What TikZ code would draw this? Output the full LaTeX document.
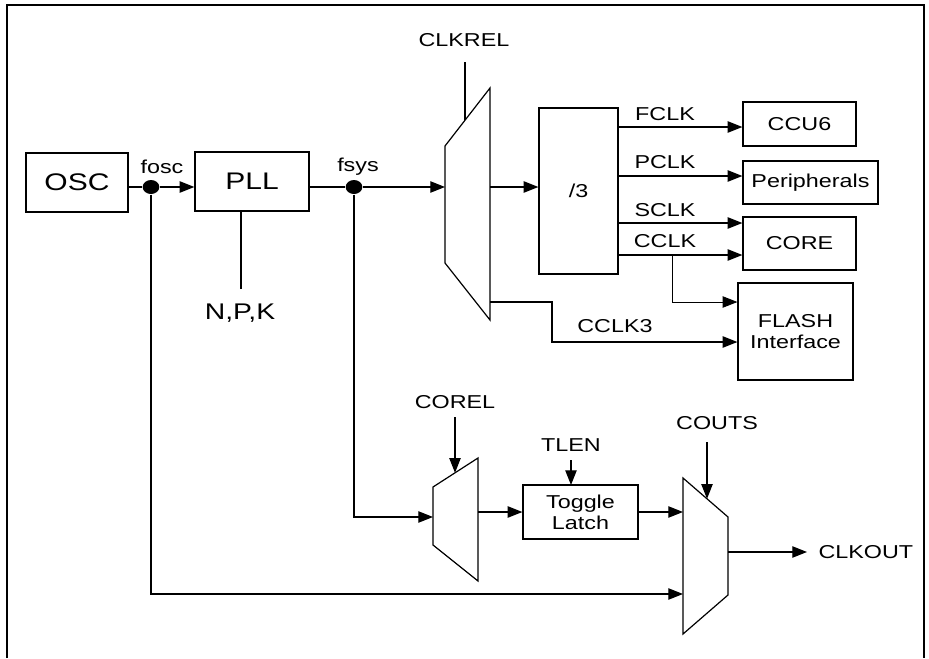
\documentclass[tikz,border=0pt]{standalone}
\usepackage{fontspec}
\newfontfamily\lblfont[FakeStretch=1.25]{Liberation Sans}
\usetikzlibrary{arrows.meta,positioning,calc,shapes.geometric}

\begin{document}
\begin{tikzpicture}[x=0.75pt, y=-0.75pt, >={Triangle[length=11pt,width=8.5pt]},
    line width=0.9pt, font=\lblfont\fontsize{14}{16}\selectfont,
    blk/.style={draw, line width=0.9pt, inner sep=0pt, align=center},
    bigblk/.style={blk, font=\lblfont\fontsize{18}{20}\selectfont},
    dot/.style={ellipse, fill, inner sep=0pt, minimum width=12.5pt, minimum height=10.5pt},
    lbl/.style={inner sep=0pt, align=center}]

  \useasboundingbox (0,0) rectangle (929,658);
  % outer frame, open at the bottom
  \draw[line width=1.8pt] (7,658) -- (7,5) -- (924,5) -- (924,658);

  % oscillator and PLL
  \node[bigblk, minimum width=76.5pt, minimum height=44.25pt] (osc) at (77,182.5) {OSC};
  \node[bigblk, minimum width=85.5pt, minimum height=44.25pt] (pll) at (252,181.5) {PLL};
  \node[dot] (fosc) at (151,187) {};
  \node[dot] (fsys) at (354,187) {};
  \node[lbl] (lfosc) at (162,167) {fosc};
  \node[lbl] (lfsys) at (358,167) {fsys};
  \node[lbl, font=\lblfont\fontsize{17}{19}\selectfont] (npk) at (240,313) {N,P,K};
  \coordinate (npktop) at (241,289);

  \draw (osc.east |- fosc) -- (fosc);
  \draw[->] (fosc) -- (fosc -| pll.west);
  \draw (pll.east |- fsys) -- (fsys);
  \draw (npktop) -- (npktop |- pll.south);

  % CLKREL multiplexer
  \draw (445,146) -- (490,88) -- (490,320) -- (445,263) -- cycle;
  \coordinate (m1in) at (445,187);
  \coordinate (m1out) at (490,187);
  \coordinate (m1low) at (490,302);
  \coordinate (m1sel) at (465,120.2);
  \node[lbl] (clkrel) at (464,40) {CLKREL};
  \draw (465,62) -- (m1sel);
  \draw[->] (fsys) -- (m1in);

  % divider and clock consumers
  \node[blk, minimum width=59.25pt, minimum height=124.5pt] (div) at (578.5,191) {/3};
  \node[blk, minimum width=84.75pt, minimum height=33pt] (ccu) at (799.5,124) {CCU6};
  \node[blk, minimum width=101.25pt, minimum height=32.25pt] (peri) at (810.5,182.5) {Peripherals};
  \node[blk, minimum width=84.75pt, minimum height=39.75pt] (core) at (799.5,243.5) {CORE};
  \node[blk, minimum width=86.25pt, minimum height=72.75pt] (flash) at (795.5,331.5) {FLASH\\Interface};
  \draw[->] (m1out) -- (m1out -| div.west);

  \draw[->] (div.east |- 0,127) -- (ccu.west |- 0,127);
  \draw[->] (div.east |- 0,176) -- (peri.west |- 0,176);
  \draw[->] (div.east |- 0,223) -- (core.west |- 0,223);
  \draw[->] (div.east |- 0,255) -- (core.west |- 0,255);
  \draw[->, line width=0.6pt] (672,255) -- (672,302) -- (flash.west |- 0,302);
  \draw[->] (m1low) -- (552,302) -- (552,342) -- (flash.west |- 0,342);

  \node[lbl] (lfclk) at (665,114) {FCLK};
  \node[lbl] (lpclk) at (665,162) {PCLK};
  \node[lbl] (lsclk) at (665,210) {SCLK};
  \node[lbl] (lcclk) at (665,241) {CCLK};
  \node[lbl] (lcclk3) at (615,326) {CCLK3};

  % COREL multiplexer and toggle latch
  \draw (433,487) -- (478,458) -- (478,581) -- (433,545) -- cycle;
  \coordinate (m2in) at (433,517);
  \coordinate (m2out) at (478,512);
  \coordinate (m2sel) at (455,472.8);
  \node[lbl] (corel) at (455,402) {COREL};
  \draw[->] (455,417) -- (m2sel);
  \draw[->] (fsys) -- (fsys |- m2in) -- (m2in);

  \node[blk, minimum width=86.25pt, minimum height=40.5pt] (tog) at (580.5,512) {Toggle\\Latch};
  \node[lbl] (tlen) at (571,445) {TLEN};
  \draw[->] (571,460) -- (571,485);
  \draw[->] (m2out) -- (m2out -| tog.west);

  % COUTS multiplexer and clock output
  \draw (683,478) -- (728,517) -- (728,595) -- (683,634) -- cycle;
  \coordinate (m3in) at (683,512);
  \coordinate (m3low) at (683,594);
  \coordinate (m3out) at (728,552);
  \coordinate (m3sel) at (707,498.8);
  \coordinate (outend) at (807,552);
  \node[lbl, anchor=west] (clkout) at (818,552) {CLKOUT};
  \node[lbl] (couts) at (717,423) {COUTS};
  \draw[->] (707,442) -- (m3sel);
  \draw[->] (tog.east |- m3in) -- (m3in);
  \draw[->] (fosc) -- (fosc |- m3low) -- (m3low);
  \draw[->] (m3out) -- (outend);
\end{tikzpicture}
\end{document}
